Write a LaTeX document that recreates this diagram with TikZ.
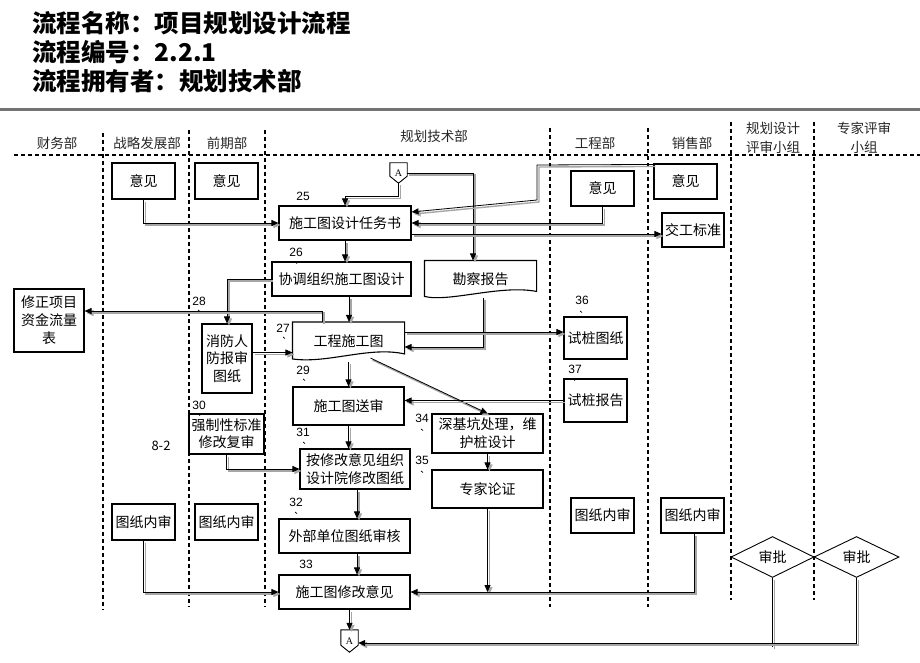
\documentclass[tikz,border=0pt]{standalone}
\usepackage{fontspec}
\setmainfont{Noto Sans CJK SC}
\newfontfamily\numf{Liberation Sans}
\newfontfamily\serf{Liberation Serif}
\usetikzlibrary{arrows.meta,calc,shapes.geometric}
\begin{document}
\begin{tikzpicture}[x=1pt,y=-1pt,
  box/.style={draw, line width=1.1pt, inner sep=0pt, align=center, font=\fontsize{14}{17.5}\selectfont},
  hd/.style={font=\fontsize{13.5}{19}\selectfont, align=center, inner sep=0pt, text=black!85},
  num/.style={font=\numf\fontsize{12}{14}\selectfont, inner sep=0pt},
  lane/.style={dash pattern=on 4pt off 3pt, line width=1.1pt},
  cline/.style={line width=0.8pt, preaction={draw=black!35, line width=1.4pt, transform canvas={shift={(2pt,-2pt)}}}},
  conn/.style={cline, -{Triangle[length=7pt,width=6pt]}},
  offp/.style={inner sep=0pt, minimum width=17pt, font=\serf\fontsize{10}{10}\selectfont},
]
\useasboundingbox (0,0) rectangle (920,663);
\fill[white] (0,0) rectangle (920,663);

% title
\node[anchor=west, inner sep=0pt, font=\bfseries\fontsize{24.5}{26}\selectfont] (t1) at (32,23) {流程名称：项目规划设计流程};
\node[anchor=west, inner sep=0pt, font=\bfseries\fontsize{24.5}{26}\selectfont] (t2) at (32,52) {流程编号：2.2.1};
\node[anchor=west, inner sep=0pt, font=\bfseries\fontsize{24.5}{26}\selectfont] (t3) at (32,81) {流程拥有者：规划技术部};
\draw[black!55, line width=3pt] (0,109.5) -- (920,109.5);

% lanes
\draw[lane] (14,155) -- (920,155);
\draw[lane] (103,133) -- (103,610);
\draw[lane] (189,130) -- (189,607);
\draw[lane] (265,130) -- (265,607);
\draw[lane] (550,128) -- (550,607);
\draw[lane] (648,128) -- (648,607);
\draw[lane] (731,122) -- (731,600);
\draw[lane] (814,122) -- (814,600);

\node[hd] (h1) at (57,143) {财务部};
\node[hd] (h2) at (147,143) {战略发展部};
\node[hd] (h3) at (227,143) {前期部};
\node[hd] (h4) at (434,136) {规划技术部};
\node[hd] (h5) at (595,143) {工程部};
\node[hd] (h6) at (692,143) {销售部};
\node[hd] (h7) at (773,137.5) {规划设计\\评审小组};
\node[hd] (h8) at (864,137.5) {专家评审\\小组};

% boxes
\node[box, minimum width=63pt, minimum height=36pt] (yj1) at (143.5,181) {意见};
\node[box, minimum width=63pt, minimum height=36pt] (yj2) at (226.5,181) {意见};
\node[box, minimum width=132pt, minimum height=34pt] (task) at (345,223) {施工图设计任务书};
\node[box, minimum width=139pt, minimum height=34pt] (xt) at (341.5,279) {协调组织施工图设计};
\node[box, draw=none, minimum width=111pt, minimum height=36pt] (kc) at (480.5,279) {勘察报告};
\draw[line width=1.1pt] (kc.north west) -- (kc.north east) -- ($(kc.north east)+(0,31)$)
  .. controls ($(kc.north east)+(-36,24)$) and ($(kc.north west)+(25,42)$) .. ($(kc.north west)+(0,36)$) -- cycle;
\node[box, minimum width=70pt, minimum height=63pt, font=\fontsize{14}{18}\selectfont] (xz) at (49,320.5) {修正项目\\资金流量\\表};
\node[box, minimum width=50pt, minimum height=69pt, font=\fontsize{14}{17.5}\selectfont] (xf) at (227,358.5) {消防人\\防报审\\图纸};
\node[box, draw=none, minimum width=111pt, minimum height=37pt] (gc) at (348.5,341) {工程施工图};
\draw[line width=1.1pt] (gc.north west) -- (gc.north east) -- ($(gc.north east)+(0,32)$)
  .. controls ($(gc.north east)+(-35,24)$) and ($(gc.north west)+(35,42)$) .. ($(gc.north west)+(0,37)$) -- cycle;
\node[box, minimum width=111pt, minimum height=38pt] (ss) at (348.5,406) {施工图送审};
\node[box, minimum width=75pt, minimum height=40pt, font=\fontsize{14}{17}\selectfont] (qz) at (226.5,434) {强制性标准\\修改复审};
\node[box, minimum width=110pt, minimum height=40pt, font=\fontsize{14}{18}\selectfont] (am) at (355,469) {按修改意见组织\\设计院修改图纸};
\node[box, minimum width=131pt, minimum height=34pt] (wb) at (344.5,536) {外部单位图纸审核};
\node[box, minimum width=131pt, minimum height=34pt] (xg) at (344.5,592) {施工图修改意见};
\node[box, minimum width=111pt, minimum height=39pt, font=\fontsize{14}{18}\selectfont] (sk) at (487.5,433.5) {深基坑处理，维\\护桩设计};
\node[box, minimum width=111pt, minimum height=38pt] (zj) at (487.5,489) {专家论证};
\node[box, minimum width=63pt, minimum height=42pt] (sz1) at (595.5,338) {试桩图纸};
\node[box, minimum width=63pt, minimum height=43pt] (sz2) at (595.5,400.5) {试桩报告};
\node[box, minimum width=63pt, minimum height=35pt] (yj3) at (602.5,188.5) {意见};
\node[box, minimum width=63pt, minimum height=35pt] (yj4) at (685.5,181.5) {意见};
\node[box, minimum width=62pt, minimum height=34pt] (jg) at (693,230) {交工标准};
\node[box, minimum width=63pt, minimum height=36pt] (tn1) at (143.5,522) {图纸内审};
\node[box, minimum width=63pt, minimum height=36pt] (tn2) at (226.5,522) {图纸内审};
\node[box, minimum width=63pt, minimum height=35pt] (tn3) at (602.5,515.5) {图纸内审};
\node[box, minimum width=63pt, minimum height=35pt] (tn4) at (692.5,515.5) {图纸内审};
\node[box, diamond, line width=0.9pt, minimum width=83pt, minimum height=34pt] (sp1) at (772.5,557) {审批};
\node[box, diamond, line width=0.9pt, minimum width=85pt, minimum height=34pt] (sp2) at (856.5,557) {审批};

% off-page connectors
\node[offp, minimum height=20pt] (Atop) at (398.5,173) {A};
\draw[line width=0.9pt] (Atop.north west) -- (Atop.north east) -- ($(Atop.south east)+(0,-7)$) -- (Atop.south) -- ($(Atop.south west)+(0,-7)$) -- cycle;
\node[offp, minimum height=22pt] (Abot) at (349.5,641) {A};
\draw[line width=0.9pt] (Abot.north west) -- (Abot.north east) -- ($(Abot.south east)+(0,-7)$) -- (Abot.south) -- ($(Abot.south west)+(0,-7)$) -- cycle;

% step numbers
\node[num] (n25) at (303,196) {25};
\node[num] (n26) at (296,252) {26};
\node[num] (n27) at (283,328) {27};
\node[num] (n28) at (199,301) {28};
\node[num] (n29) at (303,370) {29};
\node[num] (n30) at (199,405) {30};
\node[num] (n31) at (303,432) {31};
\node[num] (n32) at (296,502) {32};
\node[num] (n33) at (306,564) {33};
\node[num] (n34) at (422,418) {34};
\node[num] (n35) at (422,460) {35};
\node[num] (n36) at (582,300) {36};
\node[num] (n37) at (575,369) {37};
\node[font=\fontsize{13}{15}\selectfont, inner sep=0pt] (n82) at (161,446) {8-2};
\foreach \x/\y in {295/262, 283/337, 198/310, 303/379, 198/414, 303/442, 295/512, 421/429, 421/471, 580/311, 573/379}
  \draw[line width=0.7pt] (\x,\y) -- ++(2,1.5);

% connectors
\draw[conn] (yj1.south) |- (task.west);
\draw[cline] ($(yj2.south)+(4,0)$) -- ($(yj2.south)+(4,0)$ |- task.west);
\draw[conn] (Atop.south) -- ++(0,13) -| (task.north);
\draw[conn] (Atop.east) -| ($(kc.north)+(-7.5,0)$);
\coordinate (b5a) at (537,165);
\coordinate (b5b) at (537,200);
\draw[conn] ($(yj4.north west)+(0,1)$) -- (b5a) -- (b5b) -- ($(task.east)+(0,-11)$);
\draw[conn] (yj3.south) |- (task.east);
\coordinate (c7) at ($(task.east)+(0,11)$);
\draw[conn] (c7) -- (c7 -| jg.west);
\draw[conn] (task.south) -- (task.south |- xt.north);
\draw[conn] (xt.west) -| (xf.north);
\coordinate (c10) at ($(xt.south)+(7.5,0)$);
\draw[conn] (c10) -- (c10 |- gc.north);
\coordinate (c11) at ($(gc.north)+(-26.5,0)$);
\draw[conn] (c11) |- ($(xz.east)+(0,-9.5)$);
\coordinate (c12) at ($(xf.east)+(0,-6)$);
\draw[conn] (c12) -- (c12 -| gc.west);
\draw[conn] ($(kc.south)+(2.5,0)$) |- ($(gc.east)+(0,6)$);
\coordinate (c14) at ($(gc.east)+(0,-9)$);
\draw[conn] (c14) -- (c14 -| sz1.west);
\draw[conn] ($(gc.south)+(0,2)$) -- (gc.south |- ss.north);
\draw[conn] ($(gc.south)+(22,-2)$) -- (sk.north);
\draw[conn] (sz2.west) -- (sz2.west -| ss.east);
\draw[conn] (ss.south) -- (ss.south |- am.north);
\draw[conn] (qz.south) |- (am.west);
\draw[conn] (sk.south) -- (zj.north);
\coordinate (c21) at ($(am.south)+(2,0)$);
\draw[conn] (c21) -- (c21 |- wb.north);
\coordinate (c22) at ($(wb.south)+(12.5,0)$);
\draw[conn] (c22) -- (c22 |- xg.north);
\draw[conn] (Abot.north |- xg.south) -- (Abot.north);
\draw[conn] (tn1.south) |- (xg.west);
\draw[cline] ($(tn2.south)+(4,0)$) -- ($(tn2.south)+(4,0)$ |- xg.west);
\draw[conn] (zj.south) -- (zj.south |- xg.east);
\draw[cline] ($(tn3.south)+(4,0)$) -- ($(tn3.south)+(4,0)$ |- xg.east);
\draw[conn] ($(tn4.south)+(1.5,0)$) |- (xg.east);
\draw[cline] (sp1.south) -- ($(sp1.south)+(0,69)$);
\draw[conn] (sp2.south) |- ($(Abot.east)+(0,2)$);
\end{tikzpicture}
\end{document}
